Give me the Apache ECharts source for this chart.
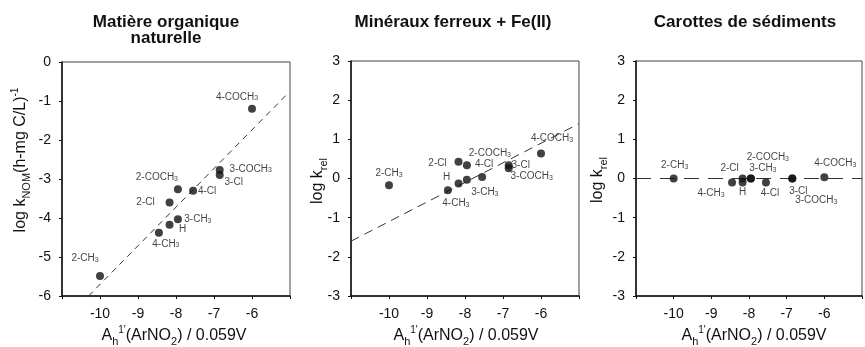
<!DOCTYPE html>
<html lang="fr">
<head>
<meta charset="UTF-8">
<title>log k vs A1'h (ArNO2) - trois milieux</title>
<script src="https://cdn.jsdelivr.net/npm/echarts@6/dist/echarts.min.js"></script>
</head>
<body style="margin:0">
<div id="mybox" style="width:865px;height:347px;"></div>
<script>
// substituants des nitrobenzenes
var substituants = ['2-CH3', '4-CH3', 'H', '2-Cl', '3-CH3', '2-COCH3', '4-Cl', '3-Cl', '3-COCH3', '4-COCH3'];
// A1'h(ArNO2)/0.059V
var xAh = [-10.0, -8.45, -8.17, -8.17, -7.95, -7.95, -7.55, -6.85, -6.85, -6.0];
// log kNOM, log krel (mineraux), log krel (sediments)
var yNom = [-5.49, -4.38, -4.17, -3.6, -4.03, -3.26, -3.3, -2.9, -2.77, -1.2];
var yFer = [-0.17, -0.3, -0.13, 0.43, -0.03, 0.34, 0.04, 0.34, 0.26, 0.64];
var ySed = [0.0, -0.1, -0.1, 0.0, 0.0, 0.0, -0.1, 0.0, 0.0, 0.03];
// droites de regression (extremites)
var ligneNom = [[-10.3, -6], [-5.05, -0.8]];
var ligneFer = [[-11, -1.6], [-5, 1.4]];
var ligneSed = [[-11, 0], [-5, 0]];
var xTicks = [-10, -9, -8, -7, -6];

// decalage des etiquettes (px) par panneau
var decalNom = [[-15,-18],[7,11],[13,5],[-24,0],[20,0],[-21,-12],[14,1],[14,7],[31,-1],[-15,-12]];
var decalFer = [[0,-12],[8,13],[-12,-6],[-21,2],[18,13],[23,-12],[2,-13],[12,0],[23,8],[11,-15]];
var decalSed = [[1,-13],[-21,11],[0,10],[-13,-10],[12,-10],[17,-21],[4,11],[6,13],[24,22],[11,-14]];

var police = 'Liberation Sans, Arial, Helvetica, sans-serif';

function points(ys, decal) {
    return substituants.map(function (s, i) {
        return {name: s, value: [xAh[i], ys[i]], label: {offset: decal[i]}};
    });
}

function xAxe(idx) {
    return {
        type: 'value', gridIndex: idx, min: -11, max: -5, interval: 1,
        axisLine: {show: true, onZero: false, lineStyle: {color: '#111', width: 1.5}},
        axisTick: {show: true, inside: false, length: 3, lineStyle: {color: '#111'}},
        axisLabel: {
            margin: 11, fontSize: 14, color: '#111', fontFamily: police,
            formatter: function (v) { return xTicks.indexOf(v) >= 0 ? String(v) : ''; }
        },
        splitLine: {show: false}
    };
}

function yAxe(idx, mn, mx) {
    return {
        type: 'value', gridIndex: idx, min: mn, max: mx, interval: 1,
        axisLine: {show: true, onZero: false, lineStyle: {color: '#111', width: 1.5}},
        axisTick: {show: true, inside: false, length: 3, lineStyle: {color: '#111'}},
        axisLabel: {margin: 11, fontSize: 14, color: '#111', fontFamily: police},
        splitLine: {show: false}
    };
}

function nuage(idx, ys, decal) {
    return {
        type: 'scatter', xAxisIndex: idx, yAxisIndex: idx, z: 3,
        symbolSize: 8,
        itemStyle: {color: '#111'},
        label: {
            show: true, position: 'inside', color: '#111',
            fontSize: 10, fontFamily: police,
            formatter: function (p) { return p.name.replace('H3', 'H{s|3}'); },
            rich: {s: {fontSize: 7, lineHeight: 8, verticalAlign: 'bottom', color: '#111', fontFamily: police}}
        },
        data: points(ys, decal)
    };
}

function droite(idx, pts, tirets) {
    return {
        type: 'line', xAxisIndex: idx, yAxisIndex: idx, z: 2,
        symbol: 'none', silent: true,
        lineStyle: {color: '#333', width: 1, type: tirets},
        data: pts
    };
}

function texte(x, y, txt, rot) {
    return {
        type: 'text', x: x, y: y, rotation: rot,
        style: {
            text: txt, fill: '#111', font: '16px ' + police,
            align: 'center', verticalAlign: 'middle',
            textAlign: 'center', textVerticalAlign: 'middle',
            rich: {
                b: {fontSize: 16, lineHeight: 22, fontFamily: police, fill: '#111'},
                sub: {fontSize: 11, lineHeight: 11, verticalAlign: 'bottom', fontFamily: police, fill: '#111'},
                sup: {fontSize: 10, lineHeight: 10, verticalAlign: 'top', fontFamily: police, fill: '#111'}
            }
        }
    };
}

var nomX = '{b|A}{sub|h}{sup|1\'}{b|(ArNO}{sub|2}{b|) / 0.059V}';

var mychart = echarts.init(document.getElementById('mybox'));
mychart.setOption({
    animation: false,
    title: [
        {text: 'Matière organique\nnaturelle', left: 166, top: 14, textAlign: 'center', padding: 0,
         textStyle: {fontSize: 17, fontWeight: 'bold', fontFamily: police, color: '#111', lineHeight: 16}},
        {text: 'Minéraux ferreux + Fe(II)', left: 453, top: 14, textAlign: 'center', padding: 0,
         textStyle: {fontSize: 17, fontWeight: 'bold', fontFamily: police, color: '#111', lineHeight: 16}},
        {text: 'Carottes de sédiments', left: 745, top: 14, textAlign: 'center', padding: 0,
         textStyle: {fontSize: 17, fontWeight: 'bold', fontFamily: police, color: '#111', lineHeight: 16}}
    ],
    grid: [
        {left: 62, top: 62, width: 228, height: 234, show: true, borderColor: '#444', borderWidth: 1},
        {left: 351, top: 61, width: 228, height: 235, show: true, borderColor: '#444', borderWidth: 1},
        {left: 636, top: 61, width: 228, height: 235, show: true, borderColor: '#444', borderWidth: 1}
    ],
    xAxis: [xAxe(0), xAxe(1), xAxe(2)],
    yAxis: [yAxe(0, -6, 0), yAxe(1, -3, 3), yAxe(2, -3, 3)],
    series: [
        droite(0, ligneNom, [6, 5]),
        nuage(0, yNom, decalNom),
        droite(1, ligneFer, [9, 6]),
        nuage(1, yFer, decalFer),
        droite(2, ligneSed, [15, 9]),
        nuage(2, ySed, decalSed)
    ],
    graphic: [
        texte(174, 336, nomX, 0),
        texte(466, 336, nomX, 0),
        texte(754, 336, nomX, 0),
        texte(21, 160, '{b|log k}{sub|NOM}{b|(h-mg C/L)}{sup|-1}', Math.PI / 2),
        texte(318, 181, '{b|log k}{sub|rel}', Math.PI / 2),
        texte(598, 180, '{b|log k}{sub|rel}', Math.PI / 2)
    ]
});
</script>
</body>
</html>
